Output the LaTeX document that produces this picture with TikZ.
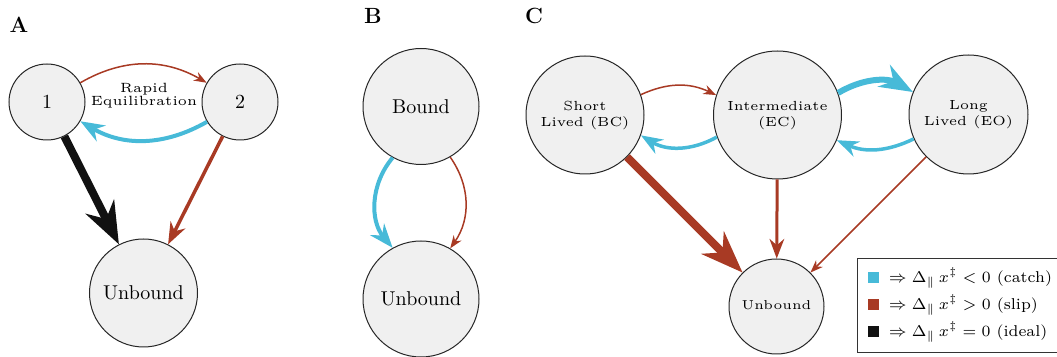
\documentclass[tikz,border=0pt]{standalone}
\usetikzlibrary{arrows.meta,positioning}
\definecolor{catchc}{HTML}{47BAD8}
\definecolor{slipc}{HTML}{A83A24}
\definecolor{idealc}{HTML}{111111}
\newcommand{\tinytext}[2]{\scalebox{#1}{\fontsize{5}{6}\selectfont\begin{tabular}{@{}c@{}}#2\end{tabular}}}
\newcommand{\keytext}[1]{\scalebox{1.12}{\fontsize{7}{8}\selectfont #1}}
\begin{document}
\begin{tikzpicture}[x=0.5pt,y=0.5pt,
  state/.style={draw=black!85, circle, fill=black!6, line width=0.5pt, inner sep=0pt, align=center},
  catch/.style={draw=catchc, -{Stealth}},
  slip/.style={draw=slipc, -{Stealth}},
  ideal/.style={draw=idealc, -{Stealth}},
  panel/.style={font=\fontsize{11}{13}\selectfont\bfseries},
  key/.style={minimum size=5.5pt, inner sep=0pt}]
\useasboundingbox (0,0) rectangle (1057,-357);
% A: two bound states
\node[panel] (labA) at (19,-25) {A};
\node[state, minimum size=38pt] (one) at (47,-102) {1};
\node[state, minimum size=38pt] (two) at (240,-102) {2};
\node[state, minimum size=54pt] (unbA) at (143.5,-293) {Unbound};
\node (rapid) at (144,-96) {\tinytext{1.34}{Rapid\\[-1pt]Equilibration}};
\draw[slip, line width=0.75pt] (one.30) to[bend left=30] (two.150);
\draw[catch, line width=2pt] (two.211) to[bend left=30] (one.330);
\draw[ideal, line width=4pt] (one) -- (unbA);
\draw[slip, line width=1.75pt] (two) -- (unbA);
% B: one bound state
\node[panel] (labB) at (373,-16) {B};
\node[state, minimum size=58pt] (bound) at (421,-106.5) {Bound};
\node[state, minimum size=58pt] (unbB) at (421,-299) {Unbound};
\draw[catch, line width=2pt] (bound.241) to[bend right=40] (unbB.119);
\draw[slip, line width=0.75pt] (bound.300) to[bend left=35] (unbB.60);
% C: three bound states
\node[panel] (labC) at (534,-16) {C};
\node[state, minimum size=59pt] (bc) at (585,-115) {\tinytext{1.32}{Short\\Lived (BC)}};
\node[state, minimum size=64pt] (ec) at (777.5,-115) {\tinytext{1.32}{Intermediate\\(EC)}};
\node[state, minimum size=59.5pt] (eo) at (968.5,-114.5) {\tinytext{1.32}{Long\\Lived (EO)}};
\node[state, minimum size=47.5pt] (unbC) at (776.5,-306.5) {\tinytext{1.29}{Unbound}};
\draw[slip, line width=0.75pt] (bc.20) to[bend left=25] (ec.162);
\draw[catch, line width=1.75pt] (ec.200) to[bend left=30] (bc.340);
\draw[catch, line width=3pt] (ec.20) to[bend left=30] (eo.158);
\draw[catch, line width=1.75pt] (eo.204) to[bend left=25] (ec.337);
\draw[slip, line width=4pt] (bc) -- (unbC);
\draw[slip, line width=1.5pt] (ec) -- (unbC);
\draw[slip, line width=0.75pt] (eo) -- (unbC);
% legend
\draw[draw=black!80, line width=0.5pt] (857,-259) rectangle (1064,-353);
\node[key, fill=catchc] (kcatch) at (873.5,-278) {};
\node[key, fill=slipc] (kslip) at (873.5,-305) {};
\node[key, fill=idealc] (kideal) at (873.5,-332) {};
\node[right=4.5pt of kcatch, inner sep=0pt] (tcatch) {\keytext{$\Rightarrow \Delta_{\|}\,x^{\ddagger} < 0$ (catch)}};
\node[right=4.5pt of kslip, inner sep=0pt] (tslip) {\keytext{$\Rightarrow \Delta_{\|}\,x^{\ddagger} > 0$ (slip)}};
\node[right=4.5pt of kideal, inner sep=0pt] (tideal) {\keytext{$\Rightarrow \Delta_{\|}\,x^{\ddagger} = 0$ (ideal)}};
\end{tikzpicture}
\end{document}
